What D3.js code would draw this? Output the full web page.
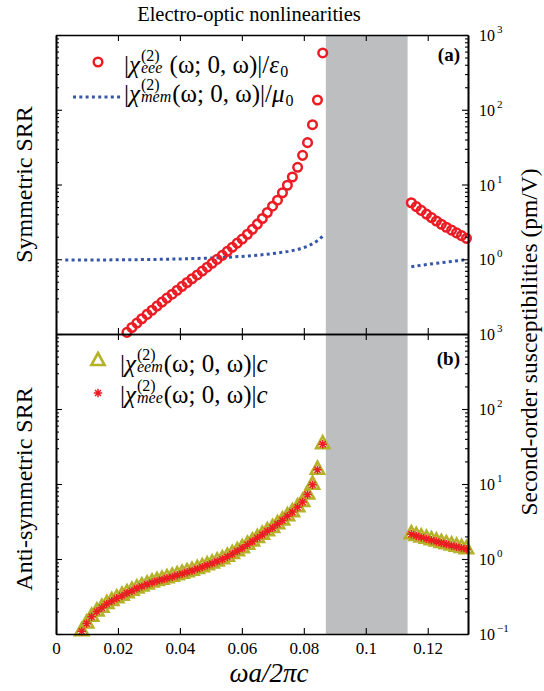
<!DOCTYPE html>
<html>
<head>
<meta charset="utf-8">
<script src="https://cdn.jsdelivr.net/npm/d3@7"></script>
<style>
  body { margin: 0; background: #fff; }
  text { font-family: "Liberation Serif", "Times New Roman", serif; fill: #000; }
</style>
</head>
<body>
<div id="chart"></div>
<script>
// frequency grid (omega a / 2 pi c), below and above the gap
var freqLow = [0.0083, 0.0099, 0.0115, 0.0132, 0.0148, 0.0164, 0.0180, 0.0196, 0.0213, 0.0229,
  0.0245, 0.0261, 0.0277, 0.0294, 0.0310, 0.0326, 0.0342, 0.0358, 0.0375, 0.0391,
  0.0407, 0.0423, 0.0439, 0.0456, 0.0472, 0.0488, 0.0504, 0.0520, 0.0537, 0.0553,
  0.0569, 0.0585, 0.0601, 0.0618, 0.0634, 0.0650, 0.0666, 0.0682, 0.0699, 0.0715,
  0.0731, 0.0747, 0.0763, 0.0780, 0.0796, 0.0812, 0.0828, 0.0844, 0.0861];
var freqHigh = [0.1147, 0.1163, 0.1179, 0.1196, 0.1212, 0.1228, 0.1244, 0.1260, 0.1277, 0.1293, 0.1309, 0.1325];

// (a) symmetric SRR : |chi_eee|/eps0 (circles), below 1e-1 not shown
var eeeLow = [null, null, null, null, null, null, null, null, null, 0.105,
  0.122, 0.140, 0.160, 0.183, 0.208, 0.236, 0.267, 0.302, 0.341, 0.385,
  0.434, 0.488, 0.548, 0.617, 0.695, 0.783, 0.883, 0.995, 1.127, 1.276,
  1.445, 1.641, 1.862, 2.163, 2.512, 2.951, 3.508, 4.217, 5.129, 6.166,
  7.762, 9.772, 12.59, 16.98, 24.55, 36.31, 63.1, 134.9, 575.4];
var eeeHigh = [5.70, 5.06, 4.50, 4.02, 3.61, 3.25, 2.94, 2.68, 2.45, 2.25, 2.07, 1.905];

// |chi_mem|/mu0 (dotted line)
var memFreqLow = [0.003, 0.01, 0.02, 0.03, 0.04, 0.05, 0.055, 0.06, 0.065, 0.07, 0.075, 0.078, 0.081, 0.083, 0.085, 0.0862];
var memLow = [0.977, 0.977, 0.982, 0.991, 1.009, 1.038, 1.062, 1.091, 1.132, 1.189, 1.274, 1.349, 1.479, 1.622, 1.841, 2.065];
var memFreqHigh = [0.1147, 0.118, 0.122, 0.126, 0.13, 0.1329];
var memHigh = [0.794, 0.832, 0.875, 0.916, 0.959, 0.995];

// (b) anti-symmetric SRR : |chi_eem| c (triangles), |chi_mee| c (stars)
var eemLow = [0.1086, 0.138, 0.170, 0.1995, 0.224, 0.251, 0.275, 0.299, 0.324, 0.351,
  0.378, 0.406, 0.432, 0.459, 0.485, 0.508, 0.531, 0.555, 0.581, 0.608,
  0.637, 0.667, 0.700, 0.738, 0.780, 0.824, 0.875, 0.929, 0.991, 1.072,
  1.169, 1.274, 1.396, 1.549, 1.718, 1.905, 2.113, 2.344, 2.600, 2.917,
  3.273, 3.715, 4.217, 4.898, 5.754, 7.244, 9.772, 15.49, 33.88];
var eemHigh = [2.138, 2.037, 1.945, 1.862, 1.782, 1.710, 1.641, 1.578, 1.517, 1.459, 1.403, 1.349];
var meeLow = [0.1086, 0.138, 0.170, 0.1995, 0.224, 0.251, 0.275, 0.299, 0.324, 0.351,
  0.378, 0.406, 0.432, 0.459, 0.485, 0.508, 0.531, 0.555, 0.581, 0.608,
  0.637, 0.667, 0.700, 0.738, 0.780, 0.824, 0.875, 0.929, 0.991, 1.072,
  1.169, 1.274, 1.396, 1.549, 1.718, 1.905, 2.113, 2.344, 2.600, 2.917,
  3.273, 3.715, 4.217, 4.898, 5.754, 7.244, 9.772, 15.49, 33.88];
var meeHigh = [2.138, 2.037, 1.945, 1.862, 1.782, 1.710, 1.641, 1.578, 1.517, 1.459, 1.403, 1.349];

// band gap (grey region)
var gapBand = [0.0871, 0.1135];

// ticks
var xTicks = [0, 0.02, 0.04, 0.06, 0.08, 0.1, 0.12];
var decades = [0.1, 1, 10, 100, 1000];
var decadeExp = ["\u22121", "0", "1", "2", "3"];

var svgWidth = 544;
var svgHeight = 691;
var plot = { left: 56, right: 468, top: 35, mid: 334, bottom: 634 };
var serif = "'Liberation Serif', 'Times New Roman', serif";

var red = "#ec1c24";
var olive = "#b5b22a";
var blue = "#3557a8";

var svg = d3.select("#chart").append("svg")
  .attr("width", svgWidth)
  .attr("height", svgHeight)
  .attr("font-family", serif);

svg.append("rect").attr("width", svgWidth).attr("height", svgHeight).attr("fill", "#fff");

var x = d3.scaleLinear().domain([0, 0.133]).range([plot.left, plot.right]);
var yTop = d3.scaleLog().domain([0.1, 1000]).range([plot.mid, plot.top]);
var yBot = d3.scaleLog().domain([0.1, 1000]).range([plot.bottom, plot.mid]);

// minor log ticks
var minors = [];
decades.slice(0, 4).forEach(function(d) {
  for (var m = 2; m <= 9; m++) minors.push(d * m);
});

// grey band behind everything
svg.append("rect")
  .attr("x", x(gapBand[0]))
  .attr("y", plot.top)
  .attr("width", x(gapBand[1]) - x(gapBand[0]))
  .attr("height", plot.bottom - plot.top)
  .attr("fill", "#bdbec0");

function pairs(fx, fy) {
  return fx.map(function(f, i) { return [f, fy[i]]; }).filter(function(p) { return p[1] != null; });
}

// ---- panel (a) ----
var line = function(y) {
  return d3.line().x(function(d) { return x(d[0]); }).y(function(d) { return y(d[1]); });
};

[pairs(memFreqLow, memLow), pairs(memFreqHigh, memHigh)].forEach(function(seg) {
  svg.append("path")
    .attr("d", line(yTop)(seg))
    .attr("fill", "none")
    .attr("stroke", blue)
    .attr("stroke-width", 3)
    .attr("stroke-dasharray", "3,3.3");
});

svg.append("g").selectAll("circle")
  .data(pairs(freqLow, eeeLow).concat(pairs(freqHigh, eeeHigh)))
  .enter()
  .append("circle")
  .attr("cx", function(d) { return x(d[0]); })
  .attr("cy", function(d) { return yTop(d[1]); })
  .attr("r", 4.3)
  .attr("fill", "none")
  .attr("stroke", red)
  .attr("stroke-width", 2.5);

// ---- panel (b) ----
var triPath = "M0,-8L6.6,4L-6.6,4Z";
var starPath = "M-4.2,0H4.2M0,-4.2V4.2M-3,-3L3,3M-3,3L3,-3";

svg.append("g").selectAll("path")
  .data(pairs(freqLow, eemLow).concat(pairs(freqHigh, eemHigh)))
  .enter()
  .append("path")
  .attr("d", triPath)
  .attr("transform", function(d) { return "translate(" + x(d[0]) + "," + yBot(d[1]) + ")"; })
  .attr("fill", "none")
  .attr("stroke", olive)
  .attr("stroke-width", 2.6);

svg.append("g").selectAll("path")
  .data(pairs(freqLow, meeLow).concat(pairs(freqHigh, meeHigh)))
  .enter()
  .append("path")
  .attr("d", starPath)
  .attr("transform", function(d) { return "translate(" + x(d[0]) + "," + yBot(d[1]) + ")"; })
  .attr("fill", "none")
  .attr("stroke", red)
  .attr("stroke-width", 1.5);

// ---- axes (box with inward ticks) ----
function drawFrame(y, top, bottom, withXLabels) {
  var axes = [
    { a: d3.axisLeft(y), t: "translate(" + plot.left + ",0)" },
    { a: d3.axisRight(y), t: "translate(" + plot.right + ",0)" }
  ];
  axes.forEach(function(ax) {
    svg.append("g").attr("transform", ax.t)
      .call(ax.a.tickValues(decades).tickSize(-6).tickSizeOuter(0).tickFormat(""));
    svg.append("g").attr("transform", ax.t)
      .call(ax.a.tickValues(minors).tickSize(-3).tickSizeOuter(0).tickFormat(""));
  });
  svg.append("g").attr("transform", "translate(0," + top + ")")
    .call(d3.axisTop(x).tickValues(xTicks).tickSize(-6).tickSizeOuter(0).tickFormat(""));
  var xb = svg.append("g").attr("transform", "translate(0," + bottom + ")")
    .call(d3.axisBottom(x).tickValues(xTicks).tickSize(-6).tickSizeOuter(0).tickPadding(8)
      .tickFormat(withXLabels ? function(d) { return d === 0 ? "0" : String(+d.toFixed(2)); } : ""));
  xb.attr("font-family", serif).attr("font-size", 17);
}

drawFrame(yTop, plot.top, plot.mid, false);
drawFrame(yBot, plot.mid, plot.bottom, true);

svg.selectAll(".domain").attr("stroke-width", 1.6);
svg.selectAll(".tick line").attr("stroke-width", 1.1);

// right-hand tick labels 10^n
function decadeLabels(y, skipFirst) {
  decades.forEach(function(d, i) {
    if (skipFirst && i === 0) return;
    var t = svg.append("text")
      .attr("x", plot.right + 11)
      .attr("y", y(d) + 6)
      .attr("font-size", 16)
      .text("10");
    t.append("tspan")
      .attr("dx", 2)
      .attr("dy", -8)
      .attr("font-size", 11)
      .text(decadeExp[i]);
  });
}
decadeLabels(yTop, true);
decadeLabels(yBot, false);

// ---- texts ----
svg.append("text")
  .attr("x", 249).attr("y", 21)
  .attr("text-anchor", "middle")
  .attr("font-size", 20.5)
  .text("Electro-optic nonlinearities");

svg.append("text")
  .attr("transform", "translate(32," + (plot.top + plot.mid) / 2 + ") rotate(-90)")
  .attr("text-anchor", "middle")
  .attr("font-size", 24)
  .text("Symmetric SRR");

svg.append("text")
  .attr("transform", "translate(32," + ((plot.mid + plot.bottom) / 2 + 5) + ") rotate(-90)")
  .attr("text-anchor", "middle")
  .attr("font-size", 24)
  .text("Anti-symmetric SRR");

svg.append("text")
  .attr("transform", "translate(537,342) rotate(-90)")
  .attr("text-anchor", "middle")
  .attr("font-size", 23.5)
  .text("Second-order susceptibilities (pm/V)");

svg.append("text")
  .attr("x", 269).attr("y", 682)
  .attr("text-anchor", "middle")
  .attr("font-size", 27)
  .attr("font-style", "italic")
  .text("\u03c9a/2\u03c0c");

svg.append("text")
  .attr("x", 460).attr("y", 61)
  .attr("text-anchor", "end")
  .attr("font-size", 19)
  .attr("font-weight", "bold")
  .text("(a)");

svg.append("text")
  .attr("x", 460).attr("y", 365)
  .attr("text-anchor", "end")
  .attr("font-size", 19)
  .attr("font-weight", "bold")
  .text("(b)");

// ---- legends ----
// measure a string at a given size
function textWidth(str, size, italic) {
  var t = svg.append("text").attr("font-size", size).attr("font-style", italic ? "italic" : null).text(str);
  var w = t.node().getComputedTextLength();
  t.remove();
  return w;
}

// |chi^(2)_sub tail|symbol_tailSub in one text element (stacked super/subscript)
function chiLabel(x0, y0, sub, tail, sym, tailSub) {
  var big = 25, small = 16;
  var wSup = textWidth("(2)", small, false);
  var wSub = textWidth(sub, small, true);
  var t = svg.append("text").attr("x", x0).attr("y", y0).attr("font-size", big);
  t.append("tspan").text("|");
  t.append("tspan").attr("font-style", "italic").text("\u03c7");
  t.append("tspan").attr("dx", 1).attr("dy", -12).attr("font-size", small).text("(2)");
  t.append("tspan").attr("dx", -wSup).attr("dy", 12).attr("font-size", small)
    .attr("font-style", "italic").text(sub);
  t.append("tspan").attr("dx", Math.max(wSup - wSub, 0) + 1).text(tail);
  t.append("tspan").attr("font-style", "italic").text(sym);
  if (tailSub) {
    t.append("tspan").attr("dx", 1).attr("dy", 4).attr("font-size", small).text(tailSub);
  }
}

svg.append("circle").attr("cx", 98).attr("cy", 62).attr("r", 4.3)
  .attr("fill", "none").attr("stroke", red).attr("stroke-width", 2.5);
chiLabel(124, 73, "eee", " (\u03c9; 0, \u03c9)|/", "\u03b5", "0");

svg.append("line").attr("x1", 73).attr("x2", 122).attr("y1", 97).attr("y2", 97)
  .attr("stroke", blue).attr("stroke-width", 3).attr("stroke-dasharray", "3,3.3");
chiLabel(124, 102, "mem", "(\u03c9; 0, \u03c9)|/", "\u03bc", "0");

svg.append("path").attr("d", triPath).attr("transform", "translate(98,361)")
  .attr("fill", "none").attr("stroke", olive).attr("stroke-width", 2.6);
chiLabel(120, 372, "eem", "(\u03c9; 0, \u03c9)|", "c", null);

svg.append("path").attr("d", starPath).attr("transform", "translate(98,393)")
  .attr("fill", "none").attr("stroke", red).attr("stroke-width", 1.5);
chiLabel(120, 403, "mee", "(\u03c9; 0, \u03c9)|", "c", null);
</script>
</body>
</html>
